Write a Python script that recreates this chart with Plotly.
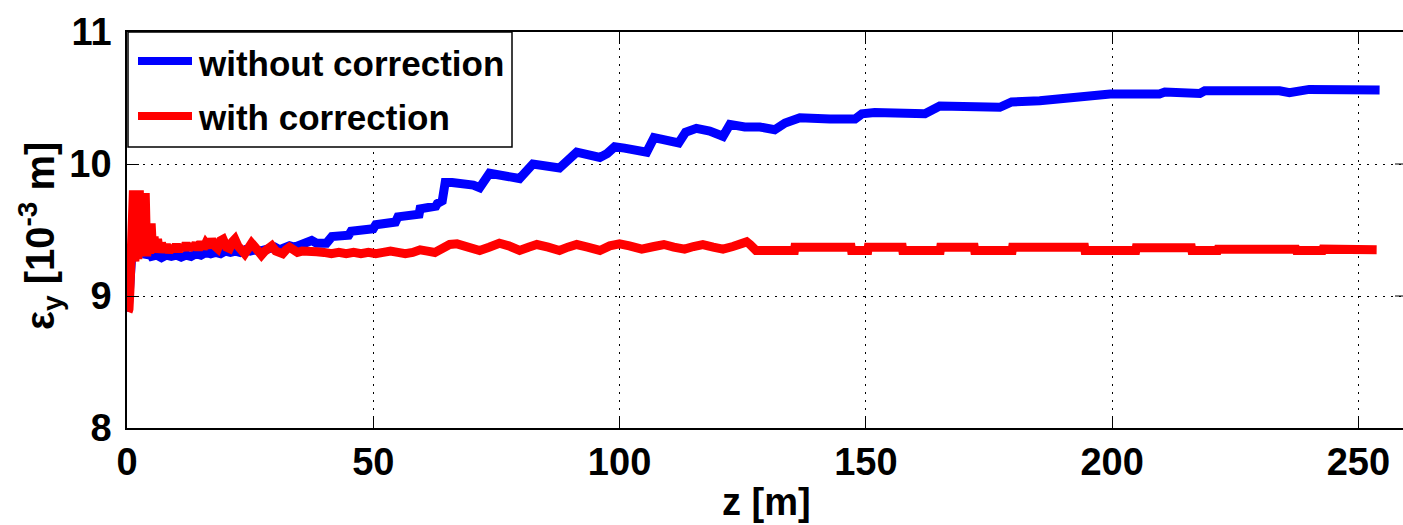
import plotly.graph_objects as go

# Vertical emittance along the line, without and with orbit correction
z_without = [0.2, 0.6, 1.0, 1.5, 2.0, 2.5, 3.0, 3.5, 4.0, 4.5, 5, 6, 7, 8, 9, 10, 11, 12, 13, 14,
             15, 16, 17, 18, 19, 20, 21, 22, 23, 24, 25, 26, 27, 28, 29, 30, 31, 32, 33, 34, 35,
             36, 37.5, 38.5, 40.5, 41.6, 45, 45.5, 50, 50.5, 54.5, 55, 59.3, 59.5, 62.7, 63, 64,
             64.6, 66, 70.3, 71.6, 73.6, 75.7, 79, 79.7, 82.4, 85, 87.8, 91.3, 94, 96, 97.5, 99,
             101, 104, 105.5, 107, 109, 112, 113.4, 115.6, 118.3, 121, 122.4, 125.4, 128.5,
             131.5, 133.6, 136.6, 142.7, 147.8, 149.2, 151.8, 162, 164, 165, 177.2, 179.6,
             185.3, 193.4, 197.5, 199.6, 209.6, 210.7, 217.8, 218.8, 234, 236, 240, 254.3]
eps_without = [8.88, 9.1, 9.4, 9.6, 9.3, 9.55, 9.3, 9.42, 9.29, 9.33, 9.30, 9.31, 9.29, 9.31, 9.30,
               9.31, 9.295, 9.31, 9.30, 9.32, 9.31, 9.33, 9.32, 9.33, 9.32, 9.34, 9.33, 9.34,
               9.33, 9.35, 9.34, 9.35, 9.34, 9.35, 9.36, 9.37, 9.35, 9.36, 9.38, 9.37, 9.38,
               9.39, 9.42, 9.40, 9.40, 9.45, 9.46, 9.49, 9.51, 9.54, 9.56, 9.60, 9.62, 9.66,
               9.68, 9.70, 9.72, 9.86, 9.86, 9.84, 9.82, 9.93, 9.92, 9.90, 9.89, 10.00, 9.99,
               9.97, 10.09, 10.06, 10.05, 10.08, 10.13, 10.12, 10.10, 10.09, 10.20, 10.19, 10.16,
               10.24, 10.27, 10.25, 10.21, 10.30, 10.28, 10.28, 10.26, 10.31, 10.35, 10.34,
               10.34, 10.38, 10.39, 10.38, 10.42, 10.44, 10.43, 10.47, 10.48, 10.50, 10.51,
               10.53, 10.53, 10.545, 10.535, 10.555, 10.555, 10.54, 10.565, 10.56]

z_with = [0.2, 0.4, 0.6, 0.8, 1.0, 1.3, 1.6, 1.9, 2.2, 2.5, 2.8, 3.1, 3.4, 3.7, 4.0, 4.3, 4.6,
          4.9, 5.2, 5.5, 5.8, 6.2, 6.6, 7.0, 7.5, 8, 8.5, 9, 9.5, 10, 10.5, 11, 11.5, 12, 12.5,
          13, 13.5, 14, 14.5, 15, 15.5, 16, 16.6, 17.2, 17.8, 18.4, 19.0, 19.5, 20.2, 20.8,
          21.4, 21.9, 22.5, 23.2, 23.9, 24.6, 25.3, 26, 26.7, 27.3, 28, 28.7, 29.4, 30.2, 31,
          31.6, 32.3, 33, 33.8, 34.6, 35.5, 37, 38.5, 40, 41.5, 43, 44.5, 46, 47.5, 49, 50.5,
          52, 53.5, 55, 56.5, 58, 59.5, 61, 62.5, 64, 65.5, 67, 68.5, 70, 71.6, 73.5, 75.6,
          77.5, 79.7, 81.5, 83.2, 85.5, 87.8, 89.5, 91.3, 93.5, 96, 98, 100, 102, 104.5, 107,
          109, 111, 113.2, 115, 116.9, 119, 121, 123, 125, 125.8, 126.5, 127.7, 135.5, 135.6,
          147, 147.1, 150.4, 150.5, 157.4, 157.5, 165.1, 165.2, 172, 172.1, 179.7, 179.8,
          194.4, 194.5, 204.8, 204.9, 216.1, 216.2, 221.4, 221.5, 237.3, 237.4, 242.7, 242.8,
          253.7]
eps_with = [8.88, 8.90, 9.05, 9.50, 9.30, 9.80, 9.26, 9.80, 9.28, 9.80, 9.30, 9.78, 9.32, 9.78,
            9.30, 9.55, 9.32, 9.55, 9.33, 9.45, 9.33, 9.43, 9.33, 9.40, 9.34, 9.39, 9.33, 9.38,
            9.34, 9.39, 9.34, 9.38, 9.35, 9.40, 9.35, 9.39, 9.36, 9.40, 9.35, 9.41, 9.36, 9.40,
            9.37, 9.43, 9.38, 9.36, 9.42, 9.43, 9.37, 9.36, 9.41, 9.43, 9.38, 9.34, 9.32, 9.36,
            9.40, 9.37, 9.32, 9.31, 9.34, 9.37, 9.38, 9.34, 9.32, 9.32, 9.35, 9.37, 9.35, 9.33,
            9.34, 9.33, 9.335, 9.33, 9.32, 9.33, 9.32, 9.33, 9.32, 9.33, 9.32, 9.33, 9.34, 9.33,
            9.32, 9.33, 9.35, 9.34, 9.33, 9.36, 9.39, 9.395, 9.38, 9.36, 9.345, 9.37, 9.40,
            9.38, 9.345, 9.37, 9.39, 9.37, 9.345, 9.37, 9.39, 9.37, 9.345, 9.38, 9.395, 9.38,
            9.355, 9.375, 9.39, 9.37, 9.355, 9.375, 9.39, 9.37, 9.355, 9.375, 9.395, 9.41, 9.39,
            9.345, 9.345, 9.37, 9.37, 9.345, 9.345, 9.37, 9.37, 9.345, 9.345, 9.37, 9.37, 9.345,
            9.345, 9.37, 9.37, 9.345, 9.345, 9.365, 9.365, 9.345, 9.345, 9.355, 9.355, 9.345,
            9.345, 9.355, 9.35]

x_ticks = [0, 50, 100, 150, 200, 250]
y_ticks = [8, 9, 10, 11]
legend_labels = ["without correction", "with correction"]
colors = ["#0000ff", "#ff0000"]

W, H = 1403, 525
L, R, T, B = 127, 0, 32, 97
pw, ph = W - L - R, H - T - B


def px(x):
    return (x - L) / pw


def py(y):
    return (H - B - y) / ph


FONT = "Liberation Sans, Arial, Helvetica, sans-serif"

fig = go.Figure()
fig.add_trace(go.Scatter(x=z_without, y=eps_without, mode="lines", name=legend_labels[0],
                         line=dict(color=colors[0], width=9), showlegend=False))
fig.add_trace(go.Scatter(x=z_with, y=eps_with, mode="lines", name=legend_labels[1],
                         line=dict(color=colors[1], width=9), showlegend=False))

axis_common = dict(showline=True, linecolor="black", linewidth=1.5,
                   ticks="inside", ticklen=12, tickwidth=1, tickcolor="black",
                   showgrid=True, gridcolor="black", gridwidth=1, griddash="2px,6px",
                   zeroline=False,
                   tickfont=dict(family=FONT, size=38, color="black", weight="bold"))

fig.update_xaxes(range=[0, 259.05], tickvals=x_ticks, ticktext=[str(v) for v in x_ticks],
                 mirror="ticks", **axis_common)
fig.update_yaxes(range=[8, 11], tickvals=y_ticks, ticktext=[str(v) for v in y_ticks],
                 ticklabelstandoff=6, **axis_common)

shapes = []
# short tick marks at the right edge of the box
for v in y_ticks[1:3]:
    shapes.append(dict(type="line", xref="paper", yref="y", x0=px(1395), x1=1, y0=v, y1=v,
                       line=dict(color="black", width=1)))
# legend box and sample lines
shapes.append(dict(type="rect", xref="paper", yref="paper", x0=px(128), x1=px(512),
                   y0=py(147), y1=py(32), line=dict(color="black", width=1.5),
                   fillcolor="white", layer="above"))
for i, yy in enumerate([61, 116]):
    shapes.append(dict(type="line", xref="paper", yref="paper", x0=px(138), x1=px(192),
                       y0=py(yy), y1=py(yy), line=dict(color=colors[i], width=8), layer="above"))

annotations = []
for i, yy in enumerate([61, 116]):
    annotations.append(dict(text=legend_labels[i], xref="paper", yref="paper", x=px(196),
                            y=py(yy + 2), xanchor="left", yanchor="middle", showarrow=False,
                            font=dict(family=FONT, size=35, color="black", weight="bold")))
annotations.append(dict(text="z [m]", xref="paper", yref="paper", x=px(767), y=py(502),
                        xanchor="center", yanchor="middle", showarrow=False,
                        font=dict(family=FONT, size=38, color="black", weight="bold")))
annotations.append(dict(text="ε<sub>y</sub> [10<sup>-3</sup> m]", xref="paper", yref="paper",
                        x=px(40), y=py(236), xanchor="center", yanchor="middle",
                        textangle=-90, showarrow=False,
                        font=dict(family=FONT, size=40, color="black", weight="bold")))

fig.update_layout(width=W, height=H, margin=dict(l=L, r=R, t=T, b=B, pad=0),
                  plot_bgcolor="white", paper_bgcolor="white",
                  shapes=shapes, annotations=annotations, showlegend=False)

fig.write_html("out.html")
